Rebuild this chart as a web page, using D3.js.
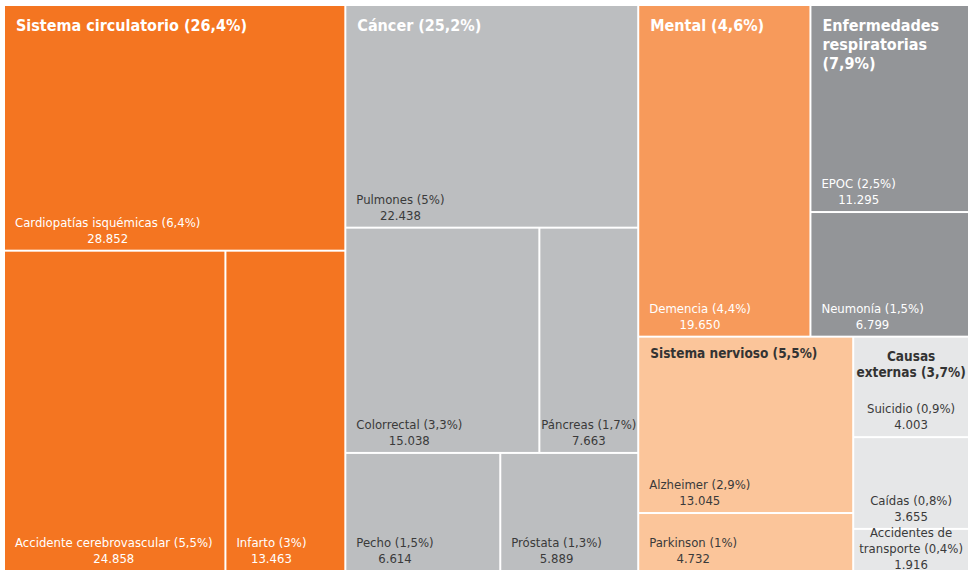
<!DOCTYPE html>
<html>
<head>
<meta charset="utf-8">
<script src="https://cdn.jsdelivr.net/npm/d3@7"></script>
<style>
  body { margin: 0; background: #fff; }
  svg { display: block; }
</style>
</head>
<body>
<div id="chart"></div>
<script>
// groups (top level) and their share of all deaths
var groups = ["Sistema circulatorio", "Cáncer", "Mental", "Enfermedades respiratorias", "Sistema nervioso", "Causas externas"];
var groupPct = ["26,4%", "25,2%", "4,6%", "7,9%", "5,5%", "3,7%"];

// causes, one entry each
var causes = ["Cardiopatías isquémicas", "Accidente cerebrovascular", "Infarto",
              "Pulmones", "Colorrectal", "Páncreas", "Pecho", "Próstata",
              "Demencia",
              "EPOC", "Neumonía",
              "Alzheimer", "Parkinson",
              "Suicidio", "Caídas", "Accidentes de transporte"];
var causeGroup = [0, 0, 0, 1, 1, 1, 1, 1, 2, 3, 3, 4, 4, 5, 5, 5];
var causePct = ["6,4%", "5,5%", "3%", "5%", "3,3%", "1,7%", "1,5%", "1,3%", "4,4%", "2,5%", "1,5%", "2,9%", "1%", "0,9%", "0,8%", "0,4%"];
var deaths = [28852, 24858, 13463, 22438, 15038, 7663, 6614, 5889, 19650, 11295, 6799, 13045, 4732, 4003, 3655, 1916];

// look of each group
var groupFill = ["#f47521", "#bcbec0", "#f79a5b", "#939598", "#fbc59a", "#e6e7e8"];
var groupInk  = ["#ffffff", "#ffffff", "#ffffff", "#ffffff", "#333333", "#333333"];
var labelInk  = ["#ffffff", "#3a3a3a", "#ffffff", "#ffffff", "#3a3a3a", "#3a3a3a"];
var titleSize = [16, 16, 16, 16, 13.5, 13.5];
var centred   = [false, false, false, false, false, true];

var width = 968, height = 570;
var font = "'DejaVu Sans Condensed', 'Liberation Sans', Arial, sans-serif";
var fmt = d3.formatLocale({decimal: ",", thousands: ".", grouping: [3], currency: ["", ""]}).format(",");

var svg = d3.select("#chart").append("svg")
    .attr("width", width)
    .attr("height", height)
    .attr("font-family", font);

// build hierarchy
var tree = {name: "root", children: groups.map(function (g, i) {
    return {name: g, gi: i, children: []};
})};
causes.forEach(function (c, i) {
    tree.children[causeGroup[i]].children.push({name: c, gi: causeGroup[i], pct: causePct[i], value: deaths[i]});
});

var root = d3.hierarchy(tree)
    .sum(function (d) { return d.value || 0; })
    .sort(function (a, b) { return b.value - a.value; });

d3.treemap()
    .tile(d3.treemapSquarify.ratio(1.15))
    .size([963, 570])
    .paddingInner(2)
    .round(false)(root);

var top0 = 6;
var g = svg.append("g").attr("transform", "translate(5," + top0 + ")");
var visBottom = height - top0;   // the map runs past the bottom of the frame

// text measuring helper
var measure = svg.append("text").attr("visibility", "hidden");
function textW(s, size, weight) {
    measure.attr("font-size", size).attr("font-weight", weight).text(s);
    return measure.node().getComputedTextLength();
}
function wrapUnits(words, size, weight, maxW) {
    var lines = [], line = words[0];
    for (var i = 1; i < words.length; i++) {
        if (textW(line + " " + words[i], size, weight) > maxW) {
            lines.push(line);
            line = words[i];
        } else {
            line = line + " " + words[i];
        }
    }
    lines.push(line);
    return lines;
}
function wrap(s, size, weight, maxW) {
    return wrapUnits(s.split(" "), size, weight, maxW);
}
// title: try to keep the percentage with the last word first
function wrapTitle(name, pct, size, w) {
    var words = name.split(" ");
    words[words.length - 1] += " " + pct;
    var lines = wrapUnits(words, size, "bold", w - 10);
    var widest = d3.max(lines, function (s) { return textW(s, size, "bold"); });
    if (widest <= w - 3) return lines;
    return wrap(name + " " + pct, size, "bold", w - 10);
}

var leaves = root.leaves();

g.selectAll("rect")
    .data(leaves)
    .enter()
    .append("rect")
    .attr("x", function (d) { return d.x0; })
    .attr("y", function (d) { return d.y0; })
    .attr("width", function (d) { return d.x1 - d.x0; })
    .attr("height", function (d) { return d.y1 - d.y0; })
    .attr("fill", function (d) { return groupFill[d.data.gi]; });

// cause labels, at the bottom of each cell
leaves.forEach(function (d) {
    var gi = d.data.gi, w = d.x1 - d.x0;
    var lines = wrap(d.data.name + " (" + d.data.pct + ")", 13, "normal", w - 1);
    lines.push(fmt(d.value));
    var cx, bottom;
    if (centred[gi]) {
        cx = (d.x0 + d.x1) / 2;
        bottom = d.y1;
    } else {
        var tw = d3.max(lines.slice(0, -1), function (s) { return textW(s, 13, "normal"); });
        var left = d.x0 + Math.min(10, Math.max(1, (w - tw) / 2));
        cx = left + tw / 2;
        bottom = Math.min(d.y1, visBottom);
    }
    var n = lines.length;
    g.append("g").selectAll("text")
        .data(lines)
        .enter()
        .append("text")
        .attr("x", cx)
        .attr("y", function (s, i) { return bottom - 7 - (n - 1 - i) * 16; })
        .attr("text-anchor", "middle")
        .attr("font-size", 13)
        .attr("fill", labelInk[gi])
        .text(function (s) { return s; });
});

// group titles
root.children.forEach(function (d) {
    var gi = d.data.gi, w = d.x1 - d.x0, size = titleSize[gi];
    var lines = wrapTitle(d.data.name, "(" + groupPct[gi] + ")", size, w);
    var lh = size + 3;
    var first = size > 15 ? 25 : (centred[gi] ? 23 : 20);
    g.append("g").selectAll("text")
        .data(lines)
        .enter()
        .append("text")
        .attr("x", centred[gi] ? (d.x0 + d.x1) / 2 : d.x0 + 11)
        .attr("y", function (s, i) { return d.y0 + first + i * lh; })
        .attr("text-anchor", centred[gi] ? "middle" : "start")
        .attr("font-size", size)
        .attr("font-weight", "bold")
        .attr("fill", groupInk[gi])
        .text(function (s) { return s; });
});
</script>
</body>
</html>
